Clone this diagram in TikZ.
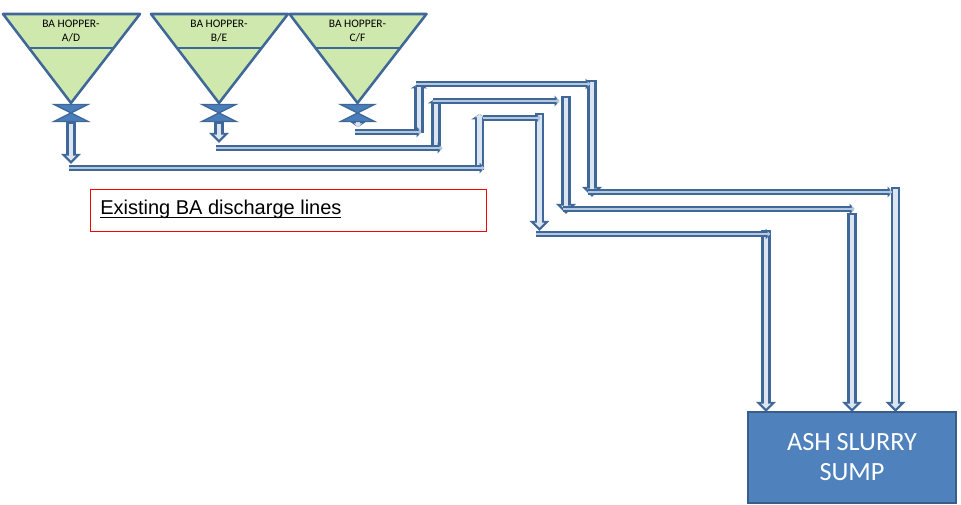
\documentclass[tikz,border=0pt]{standalone}
\usepackage{fontspec}
\usepackage{amsmath, amssymb}
\usepackage{tikz}
\usetikzlibrary{arrows.meta}
\setmainfont{Carlito}
\newfontfamily\labelfont{Liberation Sans}

\definecolor{hoppergreen}{HTML}{CFE8AE}
\definecolor{lineblue}{HTML}{3F6797}
\definecolor{valveblue}{HTML}{4A7EBB}
\definecolor{pipefill}{HTML}{DBE5F1}
\definecolor{runfill}{HTML}{B4C8E0}
\definecolor{sumpblue}{HTML}{4F81BD}
\definecolor{sumpedge}{HTML}{385D8A}

\tikzset{
  hopper/.style={draw=lineblue, fill=hoppergreen, line width=1.9pt, line join=round},
  valve/.style={draw=lineblue, fill=valveblue, line width=1pt, line join=miter},
  hopperlabel/.style={font=\fontsize{8.6}{9.8}\selectfont, align=center, text=black},
  % vertical pipe with a wide head
  vpipe/.style={line width=3.6pt, draw=pipefill, shorten <=1.5pt, shorten >=2.6pt,
    -{Triangle[length=3.6pt,width=7pt]},
    preaction={draw=lineblue, line width=7.2pt, shorten <=0pt, shorten >=0pt,
      -{Triangle[length=7.5pt,width=14.5pt]}}},
  % short outlet pipe, body narrower
  spipe/.style={line width=2.6pt, draw=pipefill, shorten <=0pt, shorten >=2pt,
    -{Triangle[length=3pt,width=6pt]},
    preaction={draw=lineblue, line width=5.4pt,
      -{Triangle[length=5pt,width=14pt]}}},
  % vertical pipe, head hidden under the run that leaves it
  rpipe/.style={line width=3.6pt, draw=pipefill, shorten <=1.5pt, shorten >=1.5pt,
    -{Triangle[length=2.5pt,width=6pt]},
    preaction={draw=lineblue, line width=7.2pt,
      -{Triangle[length=4pt,width=12pt]}}},
  % horizontal pipe
  hpipe/.style={line width=1.7pt, draw=runfill, shorten <=1pt, shorten >=1.2pt,
    -{Triangle[length=2pt,width=3.5pt]},
    preaction={draw=lineblue, line width=4.6pt,
      -{Triangle[length=3.6pt,width=8pt]}}},
}

\begin{document}
\begin{tikzpicture}[x=.75pt, y=-.75pt]

\useasboundingbox (0,0) rectangle (961,505);

% line from hopper A/D
\coordinate (a1) at (71,122);
\coordinate (a2) at (71,164);
\coordinate (a3) at (68,168);
\coordinate (a4) at (486,168);
\coordinate (a5) at (479.5,172);
\coordinate (a6) at (479.5,112);
\coordinate (a7) at (482,118);
\coordinate (a8) at (542,118);
\coordinate (a9) at (539.5,113);
\coordinate (a10) at (539.5,231);
\coordinate (a11) at (535,234);
\coordinate (a12) at (772,234);
\coordinate (a13) at (766,230);
\coordinate (a14) at (766,412);

\draw[vpipe] (a1) -- (a2);
\draw[rpipe] (a5) -- (a6);
\draw[vpipe] (a9) -- (a10);
\draw[vpipe] (a13) -- (a14);
\draw[hpipe] (a3) -- (a4);
\draw[hpipe] (a7) -- (a8);
\draw[hpipe] (a11) -- (a12);

% line from hopper B/E
\coordinate (b1) at (219,122);
\coordinate (b2) at (219,143);
\coordinate (b3) at (215,148);
\coordinate (b4) at (444,148);
\coordinate (b5) at (436,152);
\coordinate (b6) at (436,96);
\coordinate (b7) at (432,101);
\coordinate (b8) at (561,101);
\coordinate (b9) at (566,96);
\coordinate (b10) at (566,214);
\coordinate (b11) at (562,209);
\coordinate (b12) at (856,209);
\coordinate (b13) at (852,213);
\coordinate (b14) at (852,412);

\draw[vpipe] (b1) -- (b2);
\draw[rpipe] (b5) -- (b6);
\draw[vpipe] (b9) -- (b10);
\draw[vpipe] (b13) -- (b14);
\draw[hpipe] (b3) -- (b4);
\draw[hpipe] (b7) -- (b8);
\draw[hpipe] (b11) -- (b12);

% line from hopper C/F
\coordinate (c1) at (358,122);
\coordinate (c2) at (358,130);
\coordinate (c3) at (354,132);
\coordinate (c4) at (423,132);
\coordinate (c5) at (419,135);
\coordinate (c6) at (419,81);
\coordinate (c7) at (415,84);
\coordinate (c8) at (592,84);
\coordinate (c9) at (592,80);
\coordinate (c10) at (592,197);
\coordinate (c11) at (587,192);
\coordinate (c12) at (894,192);
\coordinate (c13) at (895.5,187);
\coordinate (c14) at (895.5,412);

\draw[spipe] (c1) -- (c2);
\draw[rpipe] (c5) -- (c6);
\draw[vpipe] (c9) -- (c10);
\draw[vpipe] (c13) -- (c14);
\draw[hpipe] (c3) -- (c4);
\draw[hpipe] (c7) -- (c8);
\draw[hpipe] (c11) -- (c12);

% hoppers and valves
\foreach \cx/\lbl/\nm in {71/{A/D}/a, 219/{B/E}/b, 357.5/{C/F}/c} {
  \draw[hopper] (\cx-68,14) -- (\cx+69,14) -- (\cx,103) -- cycle;
  \draw[hopper] (\cx-43,48) -- (\cx+43,48);
  \node[hopperlabel] (hopper\nm) at (\cx,31) {BA HOPPER-\\\lbl};
  \draw[valve] (\cx-17,104.5) -- (\cx+17,104.5) -- (\cx,113) -- cycle;
  \draw[valve] (\cx-17,121.5) -- (\cx+17,121.5) -- (\cx,113) -- cycle;
}

% caption box
\node[draw=red, line width=.6pt, minimum width=297.5pt, minimum height=32pt, inner sep=0pt] (capbox) at (288.5,210.5) {};
\node[anchor=base west, inner sep=0pt, font=\labelfont\fontsize{15}{18}\selectfont] (caption) at (100,215) {\underline{\smash{Existing BA discharge lines}}};

% sump
\node[draw=sumpedge, fill=sumpblue, line width=1.2pt, minimum width=156pt, minimum height=68pt, inner sep=0pt, text=white, align=center, font=\fontsize{19.7}{22.5}\selectfont] (sump) at (852,457.5) {ASH SLURRY\\SUMP};

\end{tikzpicture}
\end{document}
